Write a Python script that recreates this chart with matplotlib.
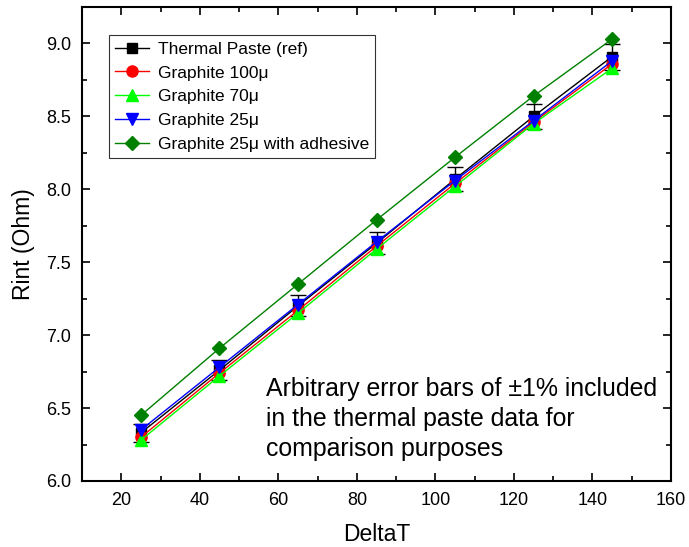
import matplotlib
matplotlib.use("Agg")
import matplotlib.pyplot as plt
from matplotlib.ticker import MultipleLocator, FormatStrFormatter
import numpy as np

plt.rcParams['font.family'] = ['Liberation Sans', 'DejaVu Sans']

delta_t = [25, 45, 65, 85, 105, 125, 145]
paste_ref = [6.33, 6.76, 7.20, 7.63, 8.07, 8.50, 8.91]
graphite_100 = [6.30, 6.74, 7.17, 7.61, 8.04, 8.46, 8.86]
graphite_70 = [6.28, 6.72, 7.15, 7.59, 8.02, 8.45, 8.83]
graphite_25 = [6.35, 6.78, 7.21, 7.64, 8.06, 8.47, 8.88]
graphite_25_adh = [6.45, 6.91, 7.35, 7.79, 8.22, 8.64, 9.03]
err_frac = 0.01

labels = ["Thermal Paste (ref)", "Graphite 100\u03bc", "Graphite 70\u03bc",
          "Graphite 25\u03bc", "Graphite 25\u03bc with adhesive"]

fig = plt.figure(figsize=(6.89, 5.47), dpi=100)
ax = fig.add_axes([82/689, 66/547, 589/689, 474/547])

ms = 8
handles = []
ax.errorbar(delta_t, paste_ref, yerr=np.array(paste_ref) * err_frac,
            fmt='none', ecolor='black', capsize=5.5, elinewidth=1, capthick=1,
            zorder=1)
h, = ax.plot(delta_t, paste_ref, color='black', marker='s', ms=ms - 1, lw=1,
             label=labels[0], zorder=1.5)
handles.append(h)
h, = ax.plot(delta_t, graphite_100, color='#ff0000', marker='o', ms=ms, lw=1,
             label=labels[1], zorder=2)
handles.append(h)
h, = ax.plot(delta_t, graphite_70, color='#00ff00', marker='^', ms=ms, lw=1,
             label=labels[2], zorder=2.1)
handles.append(h)
h, = ax.plot(delta_t, graphite_25, color='#0000ff', marker='v', ms=ms, lw=1,
             label=labels[3], zorder=2.2)
handles.append(h)
h, = ax.plot(delta_t, graphite_25_adh, color='#008000', marker='D', ms=ms - 1,
             lw=1, label=labels[4], zorder=2.3)
handles.append(h)

ax.set_xlim(10, 160)
ax.set_ylim(6.0, 9.25)
ax.set_xticks([20, 40, 60, 80, 100, 120, 140, 160])
ax.set_yticks(np.arange(6.0, 9.01, 0.5))
ax.xaxis.set_minor_locator(MultipleLocator(10))
ax.yaxis.set_minor_locator(MultipleLocator(0.25))
ax.yaxis.set_major_formatter(FormatStrFormatter('%.1f'))
ax.tick_params(which='both', direction='in', top=True, right=True,
               labeltop=False, labelright=False, width=1.2, labelsize=13, pad=8)
ax.tick_params(which='major', length=6)
ax.tick_params(which='minor', length=3.5)
for s in ax.spines.values():
    s.set_linewidth(1.5)

ax.set_xlabel("DeltaT", fontsize=16.5, labelpad=10)
ax.set_ylabel("Rint (Ohm)", fontsize=16.5, labelpad=8)

leg = ax.legend(handles=handles, loc='upper left',
                bbox_to_anchor=(0.045, 0.94), fontsize=12.5,
                frameon=True, fancybox=False, edgecolor='black',
                handlelength=2.0, handletextpad=0.5, borderpad=0.35,
                labelspacing=0.5, borderaxespad=0)
leg.get_frame().set_linewidth(0.8)

ax.text(0.313, 0.22,
        "Arbitrary error bars of \u00b11% included\nin the thermal paste data for\ncomparison purposes",
        transform=ax.transAxes, fontsize=17.9, linespacing=1.33,
        va='top', ha='left')

fig.savefig("out.png", dpi=100)
